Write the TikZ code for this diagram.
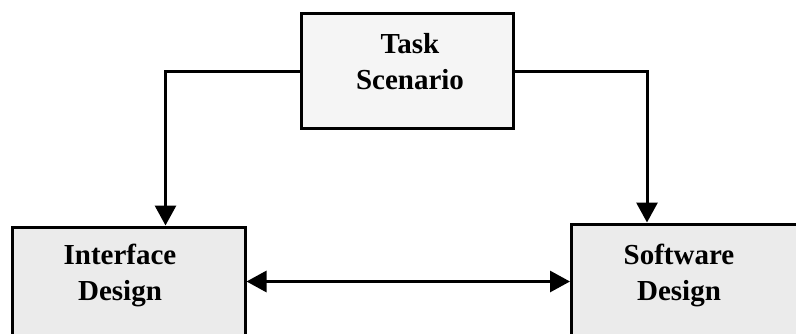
\documentclass[tikz,border=0pt]{standalone}
\usepackage{fontspec}
\setmainfont{Liberation Serif}
\usetikzlibrary{arrows.meta}
\begin{document}
\begin{tikzpicture}[x=1pt,y=1pt,
  box/.style={draw=black, line width=3pt, rectangle, inner sep=0pt},
  lbl/.style={font=\fontsize{29}{36}\selectfont\bfseries, align=center, inner sep=0pt},
  conn/.style={line width=3pt, -{Triangle[length=20pt,width=21pt]}},
  twoway/.style={line width=3pt, {Triangle[length=20pt,width=21pt]}-{Triangle[length=20pt,width=21pt]}}
]
\useasboundingbox (0,0) rectangle (796,333);
\clip (0,0) rectangle (796,333);

% boxes (the two lower ones run off the page edge)
\node[box, fill=gray!8, minimum width=212pt, minimum height=114pt] (task) at (407,262) {};
\node[box, fill=gray!16, minimum width=233pt, minimum height=130pt] (ifbox) at (128.5,41) {};
\node[box, fill=gray!16, minimum width=240pt, minimum height=130pt] (swbox) at (691.5,44) {};

% box texts
\node[lbl] (tasktext) at (410,271) {Task\\Scenario};
\node[lbl] (iftext) at (120,58) {Interface\\Design};
\node[lbl] (swtext) at (679,58) {Software\\Design};

% connectors
\draw[conn] (task.west) -| ([xshift=155pt]ifbox.north west);
\draw[conn] (task.east) -| ([xshift=77pt]swbox.north west);
\coordinate (mid) at ([yshift=-56pt]ifbox.north east);
\draw[twoway] (mid) -- (mid -| swbox.west);
\end{tikzpicture}
\end{document}
